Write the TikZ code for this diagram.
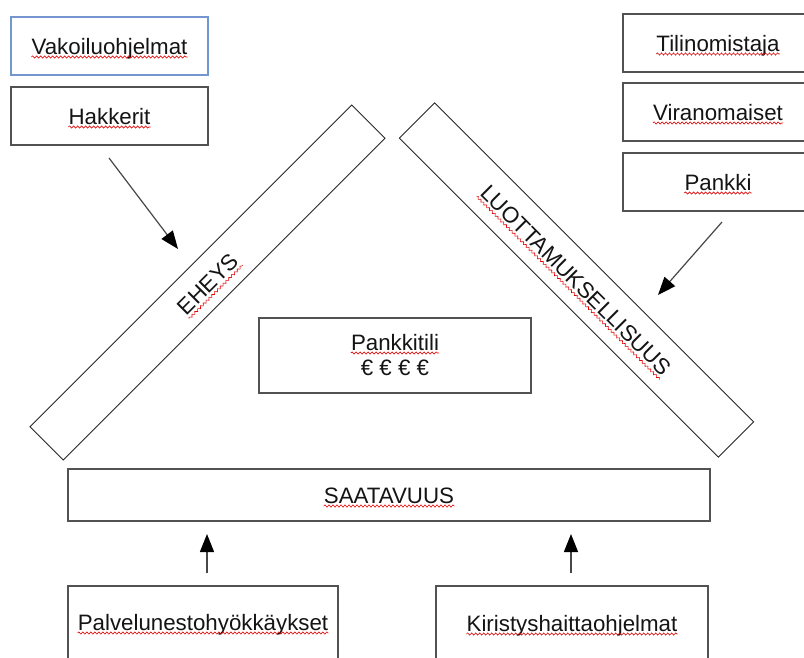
\documentclass[tikz,border=0pt]{standalone}
\usepackage{fontspec}
\setmainfont{Liberation Sans}
\usetikzlibrary{arrows.meta,decorations.pathmorphing,calc}
\definecolor{boxblue}{HTML}{7396CF}
\begin{document}
\begin{tikzpicture}[x=1pt,y=-1pt,
  box/.style={draw=black!68, line width=1.3pt, rectangle, inner sep=0pt},
  bluebox/.style={draw=boxblue, line width=1.1pt, rectangle, inner sep=0pt},
  bar/.style={draw=black!85, line width=0.9pt, rectangle, inner sep=0pt},
  lbl/.style={inner sep=0pt, anchor=base, font=\fontsize{22.3}{26}\selectfont, text=black!92},
  barlbl/.style={inner sep=0pt, anchor=center, font=\fontsize{22.3}{26}\selectfont, text=black!92},
  arr/.style={draw=black!72, line width=1.2pt, -{Triangle[length=18pt,width=14pt,color=black]}},
  wave/.style={draw=red!90!black, line width=0.6pt, decorate, decoration={snake, amplitude=1.1pt, segment length=4pt}}
]
\clip (0,0) rectangle (804,657);
\fill[white] (0,0) rectangle (804,657);

% top-left boxes
\node[bluebox, minimum width=197pt, minimum height=58pt] (bvak) at (109.5,46) {};
\node[lbl] (tvak) at (109.5,54) {Vakoiluohjelmat};
\node[box, minimum width=197pt, minimum height=58pt] (bhak) at (109.5,116) {};
\node[lbl] (thak) at (109.5,124) {Hakkerit};

% top-right boxes
\node[box, minimum width=190pt, minimum height=58pt] (btil) at (718,43) {};
\node[lbl] (ttil) at (718,51) {Tilinomistaja};
\node[box, minimum width=190pt, minimum height=58pt] (bvir) at (718,112) {};
\node[lbl] (tvir) at (718,120) {Viranomaiset};
\node[box, minimum width=190pt, minimum height=58pt] (bpan) at (718,182) {};
\node[lbl] (tpan) at (718,190) {Pankki};

% diagonal bars
\node[bar, minimum width=455pt, minimum height=47pt, rotate=45] (beh) at (207.5,282.5) {};
\node[barlbl, rotate=45] (teh) at (208,284) {EHEYS};
\node[bar, minimum width=451pt, minimum height=50pt, rotate=-45] (bluo) at (576.5,280) {};
\node[barlbl, rotate=-45] (tluo) at (576,280) {LUOTTAMUKSELLISUUS};

% centre box
\node[box, minimum width=272pt, minimum height=75pt] (bacc) at (395,355.5) {};
\node[lbl] (tacc) at (395,350) {Pankkitili};
\node[lbl] (teur) at (395,375) {€ € € €};

% availability bar
\node[box, minimum width=642pt, minimum height=52pt] (bsaa) at (389,495) {};
\node[lbl] (tsaa) at (389,503) {SAATAVUUS};

% bottom boxes
\node[box, minimum width=270pt, minimum height=110pt] (bpal) at (203,641) {};
\node[lbl] (tpal) at (203,630) {Palvelunestohyökkäykset};
\node[box, minimum width=272pt, minimum height=110pt] (bkir) at (572,641) {};
\node[lbl] (tkir) at (572,631) {Kiristyshaittaohjelmat};

% arrows
\coordinate (a1s) at (109,158);
\coordinate (a1e) at (178,249);
\coordinate (a2s) at (722,222);
\coordinate (a2e) at (658,295);
\coordinate (a3s) at (207,573);
\coordinate (a3e) at (207,534);
\coordinate (a4s) at (571,573);
\coordinate (a4e) at (571,534);
\draw[arr] (a1s) -- (a1e);
\draw[arr] (a2s) -- (a2e);
\draw[arr] (a3s) -- (a3e);
\draw[arr] (a4s) -- (a4e);

% spell-check squiggles
\foreach \n in {tvak,thak,ttil,tvir,tpan,tacc,tsaa,tpal,tkir}{
  \draw[wave] ($(\n.base west)!3pt!-90:(\n.base east)$) -- ($(\n.base east)!3pt!90:(\n.base west)$);
}
\foreach \n in {teh,tluo}{
  \draw[wave] ($(\n.south west)!3pt!-90:(\n.south east)$) -- ($(\n.south east)!3pt!90:(\n.south west)$);
}
\end{tikzpicture}
\end{document}
